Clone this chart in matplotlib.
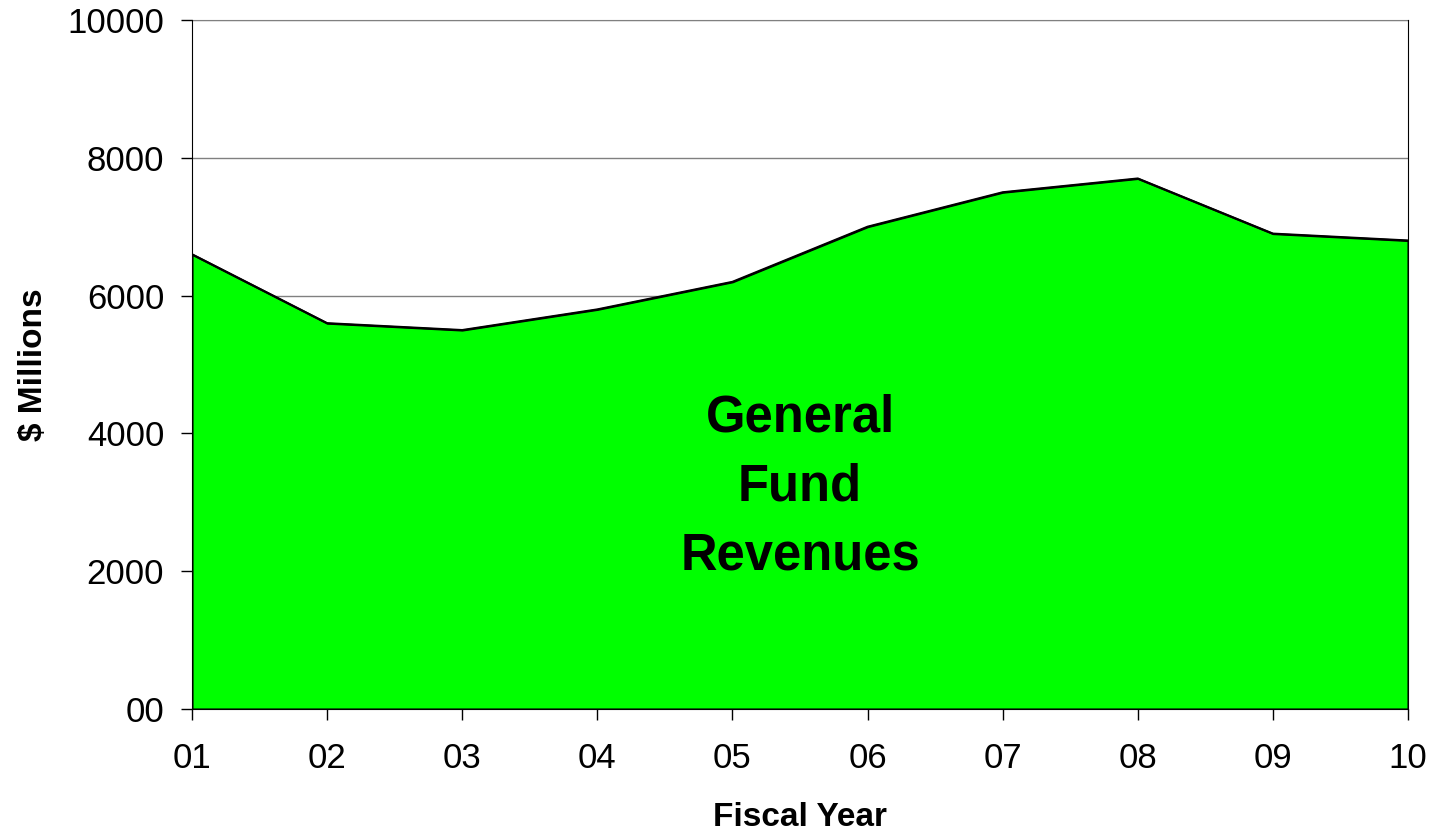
import numpy as np
import matplotlib.pyplot as plt

plt.rcParams['font.family'] = ['Liberation Sans', 'DejaVu Sans']

years = ['01', '02', '03', '04', '05', '06', '07', '08', '09', '10']
revenues = [6600, 5600, 5500, 5800, 6200, 7000, 7500, 7700, 6900, 6800]
yticks = [0, 2000, 4000, 6000, 8000, 10000]
ytick_labels = ['00', '2000', '4000', '6000', '8000', '10000']

x = np.arange(len(years))

fig = plt.figure(figsize=(14.34, 8.33), dpi=100)
ax = fig.add_axes([192/1434, 1 - 709/833, 1216/1434, 689/833])

ax.fill_between(x, revenues, 0, color='#00ff00', edgecolor='black', linewidth=1.5, zorder=2)
ax.plot(x, revenues, color='black', linewidth=1.5, zorder=3)

ax.set_xlim(0, len(years) - 1)
ax.set_ylim(0, 10000)
ax.set_xticks(x)
ax.set_xticklabels(years)
ax.set_yticks(yticks)
ax.set_yticklabels(ytick_labels)
ax.grid(axis='y', color='#808080', linewidth=1, zorder=1)
ax.set_axisbelow(True)
ax.tick_params(axis='both', labelsize=25, length=8, width=1, direction='out')
ax.tick_params(axis='x', pad=16)
ax.tick_params(axis='y', pad=12)
for s in ['left', 'right', 'bottom']:
    ax.spines[s].set_color('black')
    ax.spines[s].set_zorder(4)
ax.spines['top'].set_color('#808080')

ax.set_xlabel('Fiscal Year', fontsize=24, fontweight='bold', labelpad=19)
ax.set_ylabel('$ Millions', fontsize=24, fontweight='bold', labelpad=13)

ax.text(4.5, 3220, 'General\nFund\nRevenues', ha='center', va='center',
        fontsize=36.5, fontweight='bold', linespacing=1.53, zorder=5)

fig.savefig('out.png', dpi=100)
